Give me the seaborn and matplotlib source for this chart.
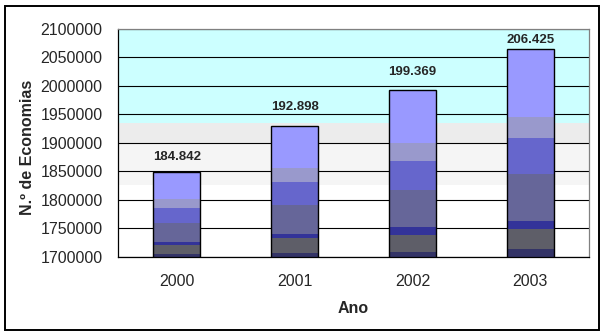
import matplotlib
matplotlib.use("Agg")
import matplotlib.pyplot as plt
from matplotlib.patches import Rectangle
from matplotlib.ticker import FuncFormatter, MultipleLocator
import numpy as np
import pandas as pd
import seaborn as sns

# Number of "economias" per year, split into stacked components (bottom -> top)
years = ["2000", "2001", "2002", "2003"]
comp_1 = [1705000, 1707500, 1708800, 1713500]
comp_2 = [16000, 25300, 29800, 35600]
comp_3 = [5000, 7550, 14600, 14100]
comp_4 = [33000, 50850, 64300, 82400]
comp_5 = [27500, 40900, 50900, 62600]
comp_6 = [15000, 23500, 31000, 37900]
comp_7 = [46920, 73380, 94290, 118150]

components = [comp_1, comp_2, comp_3, comp_4, comp_5, comp_6, comp_7]
colors = ["#333366", "#5e5e68", "#333399", "#666699", "#6666cc", "#9999cc", "#9999ff"]

sns.set_style("white")
plt.rcParams["font.family"] = ["Liberation Sans", "DejaVu Sans"]

fig = plt.figure(figsize=(6.05, 3.36), dpi=100)
ax = fig.add_axes([118 / 605, 1 - 257 / 336, (589 - 118) / 605, (257 - 29) / 336])

# background bands of the plot area
ax.axhspan(1935000, 2100000, color="#ccffff", zorder=0, lw=0)
ax.axhspan(1900000, 1935000, color="#ececec", zorder=0, lw=0)
ax.axhspan(1826000, 1900000, color="#f5f5f5", zorder=0, lw=0)

# cumulative heights, drawn tallest first so each lower layer covers the one above
stack = np.cumsum(np.array(components), axis=0)
df = pd.DataFrame({"ano": years})
for i in range(len(components) - 1, -1, -1):
    df["v"] = stack[i]
    sns.barplot(data=df, x="ano", y="v", order=years, color=colors[i],
                width=0.4, saturation=1, edgecolor="none", linewidth=0,
                ax=ax, zorder=2)

totals = stack[-1]
df["v"] = totals
sns.barplot(data=df, x="ano", y="v", order=years, fill=False,
            width=0.4, edgecolor="black", linewidth=1.0, ax=ax, zorder=3)

# value labels above each bar
label_pad = [15, 19, 18, 9]
for xi, (tot, pad) in enumerate(zip(totals, label_pad)):
    txt = f"{tot / 10:,.0f}".replace(",", ".")
    ax.annotate(txt, (xi, tot), xytext=(0, pad * 0.72), textcoords="offset points",
                ha="center", va="center", fontsize=9.5, fontweight="bold", zorder=4)

ax.set_ylim(1700000, 2100000)
ax.set_xlim(-0.5, 3.5)
ax.yaxis.set_major_locator(MultipleLocator(50000))
ax.yaxis.set_major_formatter(FuncFormatter(lambda v, p: f"{v:.0f}"))
ax.yaxis.grid(True, color="black", linewidth=0.8, zorder=1)
ax.set_axisbelow(True)

# x ticks sit between categories
ax.set_xticks(range(4))
ax.set_xticklabels(years)
ax.tick_params(axis="x", length=0, pad=12, labelsize=11.5)
ax.set_xticks([-0.5, 0.5, 1.5, 2.5, 3.5], minor=True)
ax.tick_params(axis="x", which="minor", length=4, width=0.8, color="black", direction="out")
ax.tick_params(axis="y", length=4, width=0.8, color="black", direction="out", pad=7, labelsize=11.5)

for s in ["left", "bottom"]:
    ax.spines[s].set_color("black")
    ax.spines[s].set_linewidth(0.9)
for s in ["top", "right"]:
    ax.spines[s].set_color("#808080")
    ax.spines[s].set_linewidth(0.9)
    ax.spines[s].set_visible(True)

ax.set_xlabel("Ano", fontsize=11.5, fontweight="bold")
ax.set_ylabel("N.º de Economias", fontsize=11.5, fontweight="bold")
ax.xaxis.set_label_coords(0.5, -0.193)
ax.yaxis.set_label_coords(-0.176, 0.48)

# outer frame around the whole chart
fig.patches.append(Rectangle((5 / 605, 6 / 336), 594 / 605, 324 / 336,
                             transform=fig.transFigure, fill=False,
                             edgecolor="black", linewidth=1.4))

fig.savefig("out.png", dpi=100)
